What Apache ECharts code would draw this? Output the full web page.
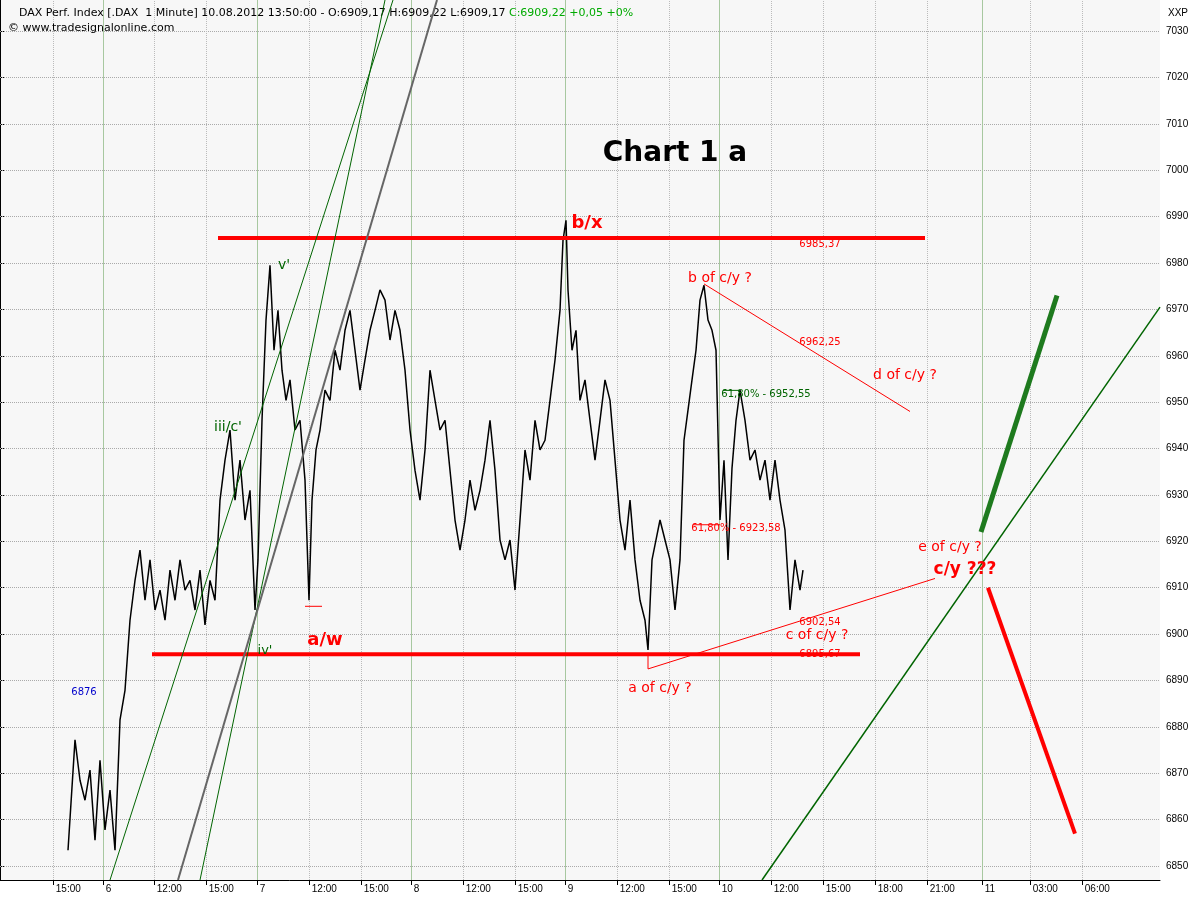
<!DOCTYPE html>
<html><head><meta charset="utf-8">
<script src="https://cdn.jsdelivr.net/npm/echarts@6/dist/echarts.min.js"></script>
<style>html,body{margin:0;padding:0;background:#fff}#c{width:1200px;height:900px}</style>
</head><body><div id="c"></div>
<script>
// time position (chart x units) and price
const barX = [68,75,80,85,90,95,100,105,110,115,120,125,130,135,140,145,150,155,160,165,170,175,180,185,190,195,200,205,210,215,220,225,230,235,240,245,250,255,258,262,266,270,274,278,282,286,290,295,300,305,309,312,316,320,325,330,335,340,345,350,355,360,365,370,375,380,385,390,395,400,405,410,415,420,425,430,435,440,445,450,455,460,465,470,475,480,485,490,495,500,505,510,515,520,525,530,535,540,545,550,555,560,563,566,568,572,576,580,585,590,595,600,605,610,615,620,625,630,635,640,645,648,652,656,660,665,670,675,680,684,688,692,696,700,704,708,712,716,720,724,728,732,736,740,745,750,755,760,765,770,775,780,785,790,795,800,803];
const barPrice = [6853.4,6877.2,6868.5,6864.2,6870.7,6855.6,6872.8,6857.8,6866.4,6853.4,6881.5,6887.9,6903.0,6911.6,6918.1,6907.3,6916.0,6905.2,6909.5,6903.0,6913.8,6907.3,6916.0,6909.5,6911.6,6905.2,6913.8,6902.0,6911.6,6907.3,6928.9,6937.5,6944.0,6928.9,6937.5,6924.6,6931.0,6905.2,6916.0,6946.1,6967.7,6979.5,6961.2,6969.8,6956.9,6950.4,6954.8,6944.0,6946.1,6933.2,6907.3,6928.9,6939.7,6944.0,6952.6,6950.4,6961.2,6956.9,6965.5,6969.8,6961.2,6952.6,6959.1,6965.5,6969.8,6974.2,6972.0,6963.4,6969.8,6965.5,6956.9,6944.0,6935.3,6928.9,6939.7,6956.9,6950.4,6944.0,6946.1,6935.3,6924.6,6918.1,6924.6,6933.2,6926.7,6931.0,6937.5,6946.1,6935.3,6920.3,6916.0,6920.3,6909.5,6924.6,6939.7,6933.2,6946.1,6939.7,6941.8,6950.4,6959.1,6969.8,6984.9,6989.2,6974.2,6961.2,6965.5,6950.4,6954.8,6946.1,6937.5,6946.1,6954.8,6950.4,6937.5,6924.6,6918.1,6928.9,6916.0,6907.3,6903.0,6896.6,6916.0,6920.3,6924.6,6920.3,6916.0,6905.2,6916.0,6941.8,6948.3,6954.8,6961.2,6972.0,6975.2,6967.7,6965.5,6961.2,6924.6,6937.5,6916.0,6935.8,6946.1,6952.6,6946.1,6937.5,6939.7,6933.2,6937.5,6928.9,6937.5,6928.9,6922.4,6905.2,6916.0,6909.5,6913.8];
const priceTicks = [6850,6860,6870,6880,6890,6900,6910,6920,6930,6940,6950,6960,6970,6980,6990,7000,7010,7020,7030];
const timeTickX = [53,103,154,206,257,309,361,411,463,515,565,617,669,719,771,823,875,927,982,1030,1082];
const timeTickLabels = ['15:00','6','12:00','15:00','7','12:00','15:00','8','12:00','15:00','9','12:00','15:00','10','12:00','15:00','18:00','21:00','11','03:00','06:00'];
const dayLineX = [103,257,411,565,719,982];
// drawn lines: [x1,p1,x2,p2,color,width]
const drawLines = [
  [218,6985.37,925,6985.37,'#ff0000',4],
  [152,6895.67,860,6895.67,'#ff0000',4],
  [704,6975.5,910,6948.0,'#ff0000',1],
  [648,6892.5,935,6912.0,'#ff0000',1],
  [110,6847,393,7036.7,'#006400',1],
  [200,6847,385,7036.7,'#006400',1],
  [178,6847,437,7036.7,'#666666',2],
  [762,6847,1160,6970.5,'#006400',1.5],
  [981,6922,1057,6973,'#1e7a1e',5],
  [988,6910,1075,6857,'#ff0000',4],
  [723,6952.55,740,6952.55,'#006400',1],
  [693,6923.58,720,6923.58,'#ff0000',1],
  [305,6906,322,6906,'#ff0000',1],
  [648,6892.5,648,6896,'#ff0000',1]
];
// text labels: [x, price, text, color, size, bold]
const texts = [
  [675,7003.5,'Chart 1 a','#000',28,true],
  [587,6988.5,'b/x','#ff0000',18,true],
  [284,6979.5,"v'",'#006400',14,false],
  [228,6944.6,"iii/c'",'#006400',14,false],
  [265,6896.5,"iv'",'#006400',13,false],
  [325,6898.7,'a/w','#ff0000',18,true],
  [720,6976.8,'b of c/y ?','#ff0000',14,false],
  [905,6955.7,'d of c/y ?','#ff0000',14,false],
  [950,6918.8,'e of c/y ?','#ff0000',14,false],
  [965,6914.0,'c/y ???','#ff0000',17,true],
  [817,6899.8,'c of c/y ?','#ff0000',14,false],
  [660,6888.4,'a of c/y ?','#ff0000',14,false],
  [820,6984.0,'6985,37','#ff0000',10,false],
  [820,6962.9,'6962,25','#ff0000',10,false],
  [820,6902.6,'6902,54','#ff0000',10,false],
  [820,6895.7,'6895,67','#ff0000',10,false],
  [766,6951.7,'61,80% - 6952,55','#006400',10,false],
  [736,6922.8,'61,80% - 6923,58','#ff0000',10,false],
  [84,6887.4,'6876','#0000cc',10,false]
];
const pricePath = barX.map((x,i)=>[x,barPrice[i]]);
const series = [
  {type:'line',data:pricePath,symbol:'none',lineStyle:{color:'#000',width:1.5},z:5,
   markLine:{silent:true,symbol:'none',label:{show:false},
     data:[...priceTicks.map(v=>({yAxis:v,lineStyle:{color:'#aaa',type:'dotted',width:1}})),
           ...timeTickX.filter(v=>!dayLineX.includes(v)).map(v=>({xAxis:v,lineStyle:{color:'#bbb',type:'dotted',width:1}})),
           ...dayLineX.map(v=>({xAxis:v,lineStyle:{color:'#a8c8a0',type:'solid',width:1}}))]}}
];
drawLines.forEach(l=>series.push({type:'line',data:[[l[0],l[1]],[l[2],l[3]]],symbol:'none',
  lineStyle:{color:l[4],width:l[5]},z:6}));
series.push({type:'scatter',symbolSize:0,z:10,itemStyle:{opacity:1},
  data:texts.map(t=>({value:[t[0],t[1]],label:{show:true,position:'inside',formatter:t[2],color:t[3],opacity:1,
    fontSize:t[4],fontWeight:t[5]?'bold':'normal',fontFamily:'DejaVu Sans'}}))});
const chart = echarts.init(document.getElementById('c'));
chart.setOption({
  animation:false,
  backgroundColor:'#fff',
  grid:{left:0,right:40,top:0,bottom:20,show:true,backgroundColor:'#f7f7f7',borderWidth:0},
  title:[{text:'DAX Perf. Index [.DAX  1 Minute] 10.08.2012 13:50:00 - O:6909,17 H:6909,22 L:6909,17 {g|C:6909,22 +0,05 +0%}',
    left:14,top:3,textStyle:{fontSize:11,fontWeight:'normal',color:'#000',fontFamily:'DejaVu Sans',rich:{g:{color:'#00aa00',fontSize:11}}}},
    {text:'© www.tradesignalonline.com',left:3,top:18,textStyle:{fontSize:11,fontWeight:'normal',color:'#000',fontFamily:'DejaVu Sans'}},
    {text:'XXP',left:1163,top:3,textStyle:{fontSize:10,fontWeight:'normal',color:'#000'}}],
  xAxis:{type:'value',min:0,max:1160,
    axisLine:{show:true,lineStyle:{color:'#000'}},splitLine:{show:false},
    axisTick:{show:true,customValues:timeTickX,length:5,lineStyle:{color:'#000'}},
    axisLabel:{customValues:timeTickX,fontSize:10,color:'#000',align:'left',margin:4,
      formatter:v=>{const i=timeTickX.indexOf(v);return i>=0?' '+timeTickLabels[i]:'';}}},
  yAxis:{type:'value',position:'right',min:6847,max:7036.7,
    axisLine:{show:true,lineStyle:{color:'#000'}},splitLine:{show:false},
    axisTick:{show:true,customValues:priceTicks,length:4,lineStyle:{color:'#000'}},
    axisLabel:{customValues:priceTicks,fontSize:10,color:'#000',margin:6,formatter:v=>String(v)}},
  series
});
</script></body></html>
